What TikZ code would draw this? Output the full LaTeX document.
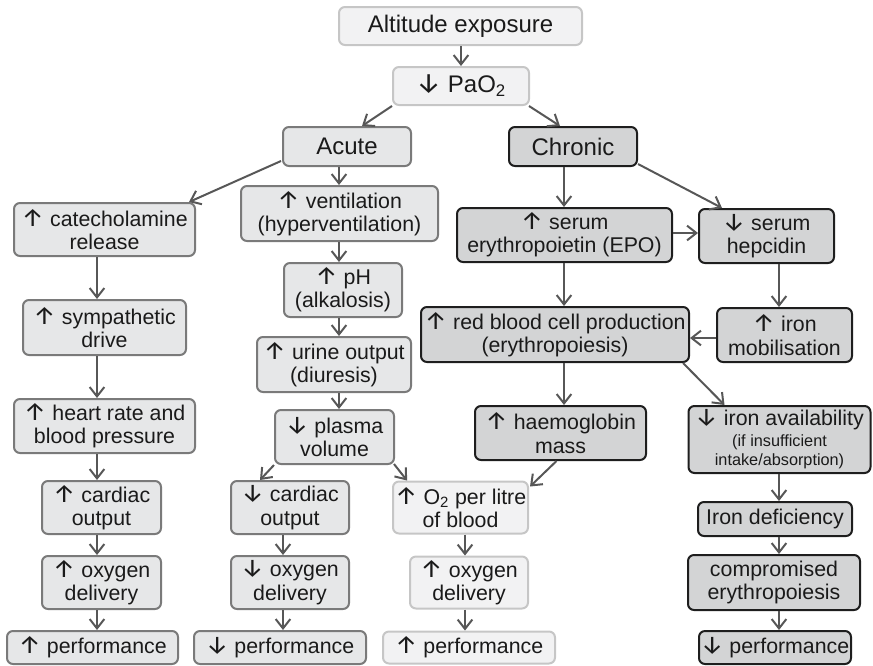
\documentclass[tikz,border=0pt]{standalone}
\usepackage{fontspec}
\setmainfont{Liberation Sans}
\newfontfamily\arrowfont{Fira Sans}
\usetikzlibrary{arrows.meta,calc}
\definecolor{lfill}{HTML}{F2F2F3}
\definecolor{ldraw}{HTML}{C6C6C6}
\definecolor{mfill}{HTML}{E6E7E8}
\definecolor{mdraw}{HTML}{7A7A7A}
\definecolor{dfill}{HTML}{D3D4D5}
\definecolor{ddraw}{HTML}{1E1E1E}
\definecolor{arr}{HTML}{575757}
\definecolor{txt}{HTML}{1A1A1A}
\def\pxu{*0.75pt}
\tikzset{
  box/.style={rounded corners=4.5pt, line width=1.5pt, inner sep=0pt, align=center,
    text=txt, font=\fontsize{16}{17.5}\selectfont},
  lbox/.style={box, fill=lfill, draw=ldraw},
  mbox/.style={box, fill=mfill, draw=mdraw},
  dbox/.style={box, fill=dfill, draw=ddraw},
  big/.style={font=\fontsize{18}{20}\selectfont},
  sz/.style n args={2}{minimum width=#1\pxu, minimum height=#2\pxu},
  conn/.style={draw=arr, line width=1.5pt, -{Straight Barb[length=7pt,width=11pt,line width=1.5pt]}},
}
\newcommand{\up}{{\arrowfont\fontsize{19}{17.5}\selectfont ↑}}
\newcommand{\dn}{{\arrowfont\fontsize{19}{17.5}\selectfont ↓}}
\begin{document}
\begin{tikzpicture}[x=0.75pt,y=-0.75pt]
\useasboundingbox (0,0) rectangle (873,665);
% top
\node[lbox,big,sz={243}{38}] (alt) at (460.5,26) {Altitude exposure};
\node[lbox,big,sz={136}{38}] (pao) at (461,86) {{\arrowfont\fontsize{21}{20}\selectfont ↓} PaO\textsubscript{2}};
\node[mbox,big,sz={128}{39}] (acute) at (347,146.5) {Acute};
\node[dbox,big,sz={128}{39}] (chronic) at (573,146.5) {Chronic};
% left column
\node[mbox,sz={181}{53}] (cate) at (104.5,229.5) {\up{} catecholamine\\release};
\node[mbox,sz={163}{55}] (symp) at (104.5,327.5) {\up{} sympathetic\\drive};
\node[mbox,sz={181}{54}] (hr) at (104.5,426) {\up{} heart rate and\\blood pressure};
\node[mbox,sz={119}{53}] (coup) at (101.5,507.5) {\up{} cardiac\\output};
\node[mbox,sz={119}{53}] (odup) at (101.5,582.5) {\up{} oxygen\\delivery};
\node[mbox,sz={171}{33}] (perfa) at (92.5,647.5) {\up{} performance};
% middle column
\node[mbox,sz={197}{55}] (vent) at (339.5,213.5) {\up{} ventilation\\(hyperventilation)};
\node[mbox,sz={118}{54}] (ph) at (343,290) {\up{} pH\\(alkalosis)};
\node[mbox,sz={154}{55}] (urine) at (334,364.5) {\up{} urine output\\(diuresis)};
\node[mbox,sz={119}{54}] (plasma) at (334.5,437) {\dn{} plasma\\volume};
\node[mbox,sz={118}{53}] (codn) at (290,507.5) {\dn{} cardiac\\output};
\node[mbox,sz={118}{53}] (oddn) at (290,582.5) {\dn{} oxygen\\delivery};
\node[mbox,sz={172}{33}] (perfb) at (280,647.5) {\dn{} performance};
% O2 branch
\node[lbox,sz={135}{52}] (otwo) at (460.5,507.5) {\up{} O\textsubscript{2} per litre\\of blood};
\node[lbox,sz={118}{52}] (odmid) at (469,582.5) {\up{} oxygen\\delivery};
\node[lbox,sz={172}{32}] (perfc) at (469,647.5) {\up{} performance};
% chronic
\node[dbox,sz={215}{54}] (epo) at (564.5,235) {\up{} serum\\erythropoietin (EPO)};
\node[dbox,sz={135}{54}] (hep) at (766.5,236) {\dn{} serum\\hepcidin};
\node[dbox,sz={268}{55}] (rbc) at (555,334.5) {\up{} red blood cell production\\(erythropoiesis)};
\node[dbox,sz={135}{54}] (mob) at (784.5,335) {\up{} iron\\mobilisation};
\node[dbox,sz={171}{54}] (hb) at (560.5,433) {\up{} haemoglobin\\mass};
\node[dbox,sz={182}{67}] (avail) at (779.5,439.5) {\dn{} iron availability\\[-2pt]{\fontsize{12.2}{13.5}\selectfont (if insufficient}\\[-3pt]{\fontsize{12.2}{13.5}\selectfont intake/absorption)}};
\node[dbox,sz={154}{34}] (irondef) at (775,519) {Iron deficiency};
\node[dbox,sz={172}{55}] (comp) at (774,582.5) {compromised\\erythropoiesis};
\node[dbox,sz={152}{33}] (perfd) at (775,647.5) {\dn{} performance};
% column coordinates
\coordinate (colL) at (97,0);
\coordinate (colM) at (339,0);
\coordinate (colD) at (283,0);
\coordinate (colO) at (465,0);
\coordinate (colC) at (564,0);
\coordinate (colR) at (779,0);
% connectors
\draw[conn] (alt.south -| pao.north) -- (pao.north);
\draw[conn] (pao.south west) -- ($(acute.north)+(15,0)$);
\draw[conn] ($(pao.south east)+(-1,0)$) -- ($(chronic.north)+(-13,0)$);
\draw[conn] ($(acute.south west)+(-1,-6)$) -- ($(cate.north east)+(-7,0)$);
\draw[conn] (acute.south -| colM) -- (vent.north -| colM);
\draw[conn] (vent.south -| colM) -- (ph.north -| colM);
\draw[conn] (ph.south -| colM) -- (urine.north -| colM);
\draw[conn] (urine.south -| colM) -- (plasma.north -| colM);
\draw[conn] (plasma.south west) -- ($(codn.north)+(-30,0)$);
\draw[conn] ($(plasma.south east)+(-1,-1)$) -- ($(otwo.north west)+(15,0)$);
\draw[conn] (codn.south -| colD) -- (oddn.north -| colD);
\draw[conn] (oddn.south -| colD) -- (perfb.north -| colD);
\draw[conn] (otwo.south -| colO) -- (odmid.north -| colO);
\draw[conn] (odmid.south -| colO) -- (perfc.north -| colO);
\draw[conn] (cate.south -| colL) -- (symp.north -| colL);
\draw[conn] (symp.south -| colL) -- (hr.north -| colL);
\draw[conn] (hr.south -| colL) -- (coup.north -| colL);
\draw[conn] (coup.south -| colL) -- (odup.north -| colL);
\draw[conn] (odup.south -| colL) -- (perfa.north -| colL);
\draw[conn] (chronic.south -| colC) -- (epo.north -| colC);
\draw[conn] ($(chronic.south east)+(0,-3)$) -- ($(hep.north west)+(24,0)$);
\draw[conn] ($(epo.east)+(0,-2)$) -- ($(hep.west |- epo.east)+(0,-2)$);
\draw[conn] (epo.south -| colC) -- (rbc.north -| colC);
\draw[conn] (hep.south -| colR) -- (mob.north -| colR);
\draw[conn] ($(mob.west)+(0,3)$) -- ($(rbc.east |- mob.west)+(0,3)$);
\draw[conn] (rbc.south -| colC) -- (hb.north -| colC);
\draw[conn] ($(rbc.south east)+(-7,0)$) -- ($(avail.north west)+(37,0)$);
\draw[conn] ($(hb.south)+(-4,0)$) -- ($(otwo.north east)+(1,6)$);
\draw[conn] (avail.south -| colR) -- (irondef.north -| colR);
\draw[conn] (irondef.south -| colR) -- (comp.north -| colR);
\draw[conn] (comp.south -| colR) -- (perfd.north -| colR);
\end{tikzpicture}
\end{document}
